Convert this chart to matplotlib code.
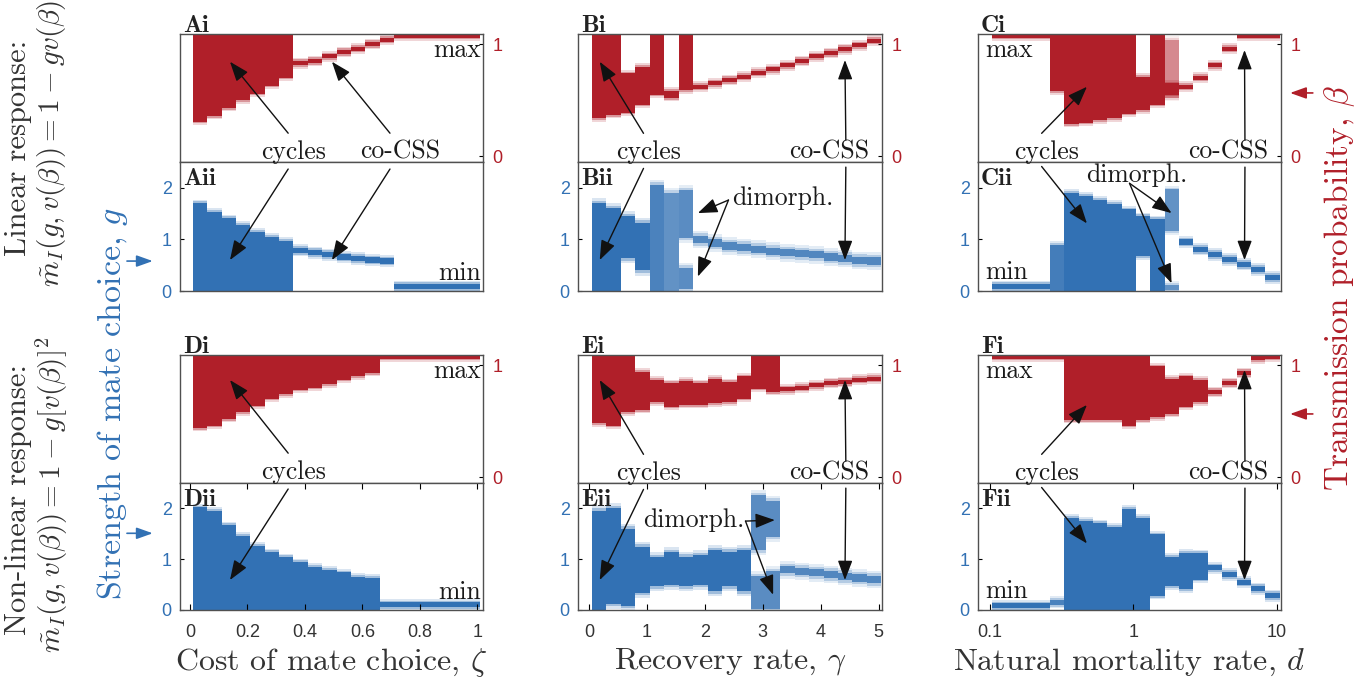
import matplotlib
matplotlib.use('Agg')
import matplotlib.pyplot as plt
import numpy as np
from matplotlib.colors import to_rgba
from matplotlib.text import Annotation
from matplotlib.ticker import NullLocator

RED = '#B01F29'
BLUE = '#3271B4'
DARK = '#333333'
plt.rcParams['font.family'] = ['Liberation Sans', 'DejaVu Sans']
plt.rcParams['mathtext.fontset'] = 'cm'

# parameter values (bin centres) of the three sweeps
zeta = [0.035, 0.085, 0.135, 0.185, 0.235, 0.285, 0.335, 0.385, 0.435, 0.485,
        0.535, 0.585, 0.635, 0.685, 0.735, 0.785, 0.835, 0.885, 0.935, 0.985]
gamma = [0.175, 0.425, 0.675, 0.925, 1.175, 1.425, 1.675, 1.925, 2.175, 2.425,
         2.675, 2.925, 3.175, 3.425, 3.675, 3.925, 4.175, 4.425, 4.675, 4.925]
d_rate = [0.117, 0.148, 0.186, 0.234, 0.295, 0.372, 0.468, 0.589, 0.741, 0.933,
          1.175, 1.479, 1.862, 2.344, 2.951, 3.715, 4.677, 5.888, 7.413, 9.333]

# ---- linear response: beta (i) and g (ii), lower / upper edge of the trait range
ai_lo = [0.31, 0.36, 0.43, 0.50, 0.56, 0.63, 0.70, 0.83, 0.85, 0.89,
         0.93, 0.96, 1.00, 1.04, 1.075, 1.075, 1.075, 1.075, 1.075, 1.075]
ai_hi = [1.1, 1.1, 1.1, 1.1, 1.1, 1.1, 1.1, 0.83, 0.85, 0.89,
         0.93, 0.96, 1.00, 1.04, 1.075, 1.075, 1.075, 1.075, 1.075, 1.075]
aii_lo = [0, 0, 0, 0, 0, 0, 0, 0.79, 0.74, 0.70,
          0.66, 0.63, 0.60, 0.58, 0.08, 0.08, 0.08, 0.08, 0.08, 0.08]
aii_hi = [1.70, 1.54, 1.41, 1.28, 1.15, 1.05, 0.97, 0.79, 0.74, 0.70,
          0.66, 0.63, 0.60, 0.58, 0.08, 0.08, 0.08, 0.08, 0.08, 0.08]

bi_lo = [0.34, 0.37, 0.39, 0.46, 0.55, 0.52, 0.59, 0.62, 0.65, 0.68,
         0.71, 0.745, 0.775, 0.81, 0.85, 0.89, 0.92, 0.955, 0.99, 1.03]
bi_hi = [1.1, 1.1, 0.74, 0.80, 1.1, 0.585, 1.1, 0.62, 0.65, 0.68,
         0.71, 0.745, 0.775, 0.81, 0.85, 0.89, 0.92, 0.955, 0.99, 1.03]
bii_bin = [0, 1, 2, 3, 4, 5, 6, 6, 7, 8, 9, 10, 11, 12, 13, 14, 15, 16, 17, 18, 19]
bii_lo = [0, 0, 0.64, 0.40, 0, 0, 1.03, 0.03, 1.0, 0.93,
          0.87, 0.84, 0.81, 0.77, 0.74, 0.72, 0.70, 0.66, 0.63, 0.59, 0.58]
bii_hi = [1.70, 1.60, 1.45, 1.32, 2.06, 1.90, 1.95, 0.45, 1.0, 0.93,
          0.87, 0.84, 0.81, 0.77, 0.74, 0.72, 0.70, 0.66, 0.63, 0.59, 0.58]
bii_tone = [1, 1, 1, 1, 0.8, 0.65, 0.7, 0.7, 0.75, 0.75,
            0.75, 0.75, 0.75, 0.75, 0.75, 0.75, 0.75, 0.75, 0.75, 0.75, 0.75]

ci_bin = [0, 1, 2, 3, 4, 5, 6, 7, 8, 9, 10, 11, 12, 12, 13, 14, 15, 16, 17, 18, 19]
ci_lo = [1.075, 1.075, 1.075, 1.075, 0.58, 0.29, 0.30, 0.32, 0.34, 0.38,
         0.41, 0.46, 0.52, 0.55, 0.62, 0.70, 0.81, 0.96, 1.075, 1.075, 1.075]
ci_hi = [1.075, 1.075, 1.075, 1.075, 1.1, 1.1, 1.1, 1.1, 1.1, 1.1,
         0.71, 1.1, 1.04, 0.65, 0.62, 0.70, 0.81, 0.96, 1.075, 1.075, 1.075]
ci_tone = [1, 1, 1, 1, 1, 1, 1, 1, 1, 1, 1, 1, 0.4, 1, 1, 1, 1, 1, 1, 1, 1]
cii_bin = [0, 1, 2, 3, 4, 5, 6, 7, 8, 9, 10, 11, 12, 12, 13, 14, 15, 16, 17, 18, 19]
cii_lo = [0.08, 0.08, 0.08, 0.08, 0, 0, 0, 0, 0, 0,
          0.68, 0, 1.16, 0.07, 0.95, 0.81, 0.71, 0.61, 0.52, 0.42, 0.26]
cii_hi = [0.08, 0.08, 0.08, 0.08, 0.90, 1.90, 1.84, 1.77, 1.69, 1.58,
          1.45, 1.39, 1.97, 0.07, 0.95, 0.81, 0.71, 0.61, 0.52, 0.42, 0.26]
cii_tone = [1, 1, 1, 1, 0.85, 1, 1, 1, 1, 1, 1, 1, 0.65, 0.65, 1, 1, 1, 1, 1, 1, 1]

# ---- non-linear response
di_lo = [0.44, 0.46, 0.52, 0.58, 0.64, 0.70, 0.74, 0.78, 0.80, 0.83,
         0.87, 0.90, 0.93, 1.075, 1.075, 1.075, 1.075, 1.075, 1.075, 1.075]
di_hi = [1.1, 1.1, 1.1, 1.1, 1.1, 1.1, 1.1, 1.1, 1.1, 1.1,
         1.1, 1.1, 1.1, 1.075, 1.075, 1.075, 1.075, 1.075, 1.075, 1.075]
dii_lo = [0, 0, 0, 0, 0, 0, 0, 0, 0, 0,
          0, 0, 0, 0.1, 0.1, 0.1, 0.1, 0.1, 0.1, 0.1]
dii_hi = [2.02, 1.95, 1.67, 1.46, 1.26, 1.14, 1.04, 0.94, 0.85, 0.79,
          0.74, 0.65, 0.63, 0.1, 0.1, 0.1, 0.1, 0.1, 0.1, 0.1]

ei_lo = [0.48, 0.46, 0.58, 0.60, 0.67, 0.63, 0.645, 0.645, 0.66, 0.67,
         0.70, 0.79, 0.76, 0.785, 0.80, 0.82, 0.84, 0.85, 0.87, 0.88]
ei_hi = [1.1, 1.1, 1.1, 0.94, 0.87, 0.84, 0.86, 0.84, 0.88, 0.85,
         0.90, 1.1, 1.1, 0.785, 0.80, 0.82, 0.84, 0.85, 0.87, 0.88]
eii_bin = [0, 1, 2, 3, 4, 5, 6, 7, 8, 9, 10, 11, 11, 12, 12, 13, 14, 15, 16, 17, 18, 19]
eii_lo = [0, 0.12, 0.08, 0.34, 0.47, 0.50, 0.47, 0.50, 0.37, 0.47, 0.37,
          1.18, 0.02, 1.44, 0.02, 0.79, 0.76, 0.73, 0.70, 0.66, 0.63, 0.60]
eii_hi = [1.95, 2.0, 1.60, 1.24, 1.04, 1.14, 1.05, 1.08, 1.18, 1.15, 1.18,
          2.26, 0.66, 2.15, 0.76, 0.79, 0.76, 0.73, 0.70, 0.66, 0.63, 0.60]
eii_tone = [1, 1, 1, 1, 1, 1, 1, 1, 1, 1, 1,
            0.7, 0.7, 0.7, 0.7, 0.75, 0.75, 0.75, 0.75, 0.75, 0.75, 0.75]

fi_lo = [1.075, 1.075, 1.075, 1.075, 1.075, 0.51, 0.51, 0.51, 0.51, 0.46,
         0.51, 0.535, 0.565, 0.63, 0.67, 0.76, 0.84, 0.93, 1.06, 1.075]
fi_hi = [1.075, 1.075, 1.075, 1.075, 1.075, 1.1, 1.1, 1.1, 1.1, 1.1,
         1.1, 0.99, 0.88, 0.90, 0.87, 0.76, 0.84, 0.93, 1.06, 1.075]
fii_lo = [0.08, 0.08, 0.08, 0.08, 0.15, 0, 0, 0, 0, 0,
          0, 0.28, 0.47, 0.41, 0.60, 0.83, 0.70, 0.55, 0.42, 0.28]
fii_hi = [0.08, 0.08, 0.08, 0.08, 0.15, 1.82, 1.76, 1.71, 1.64, 1.99,
          1.82, 1.49, 1.05, 1.13, 1.12, 0.83, 0.70, 0.55, 0.42, 0.28]
fii_tone = [1, 1, 1, 1, 0.8, 1, 1, 1, 1, 1, 1, 1, 1, 1, 1, 1, 1, 1, 1, 1]


def paint(ax, xc, width, logx, lo, hi, color, core, fuzz, bins=None, tone=None):
    xc = np.asarray(xc, float)
    if logx:
        left, right = xc / 10 ** (width / 2), xc * 10 ** (width / 2)
    else:
        left, right = xc - width / 2, xc + width / 2
    idx = np.arange(len(lo)) if bins is None else np.asarray(bins)
    t = np.ones(len(lo)) if tone is None else np.asarray(tone, float)
    lo = np.asarray(lo, float)
    hi = np.asarray(hi, float)
    mid, half = (lo + hi) / 2, np.maximum((hi - lo) / 2, core)
    a, b = mid - half, mid + half
    L, Wd = left[idx], right[idx] - left[idx]
    for k, al in [(1.0, 0.18), (0.5, 0.35)]:
        ax.bar(L, b - a + 2 * k * fuzz, bottom=a - k * fuzz, width=Wd, align='edge',
               color=[to_rgba(color, al * v) for v in t], linewidth=0, antialiased=False)
    ax.bar(L, b - a, bottom=a, width=Wd, align='edge',
           color=[to_rgba(color, v) for v in t], linewidth=0, antialiased=False)


W, H = 1369, 681
fig = plt.figure(figsize=(13.69, 6.81), dpi=100)


def box(l, t, r, b):
    return fig.add_axes([l / W, 1 - b / H, (r - l) / W, (b - t) / H])


cols = [(180, 483), (578, 882), (978, 1281)]
rows = [((34, 162), (162, 291)), ((355, 483), (483, 610))]
xlims = [(-0.035, 1.02), (-0.19, 5.06), (0.083, 10.7)]
xticks = [[0, 0.2, 0.4, 0.6, 0.8, 1], [0, 1, 2, 3, 4, 5], [0.1, 1, 10]]
xtlabels = [['0', '0.2', '0.4', '0.6', '0.8', '1'], ['0', '1', '2', '3', '4', '5'], ['0.1', '1', '10']]
xlabels = [r'Cost of mate choice, $\zeta$', r'Recovery rate, $\gamma$', r'Natural mortality rate, $d$']
names = [['A', 'B', 'C'], ['D', 'E', 'F']]

axs = {}
for r, ((t1, b1), (t2, b2)) in enumerate(rows):
    for c, (l, rr) in enumerate(cols):
        a1 = box(l, t1, rr, b1)
        a2 = box(l, t2, rr, b2)
        for a in (a1, a2):
            if c == 2:
                a.set_xscale('log')
            a.set_xlim(*xlims[c])
            a.xaxis.set_minor_locator(NullLocator())
            for s in a.spines.values():
                s.set_color('#505050')
                s.set_linewidth(1.0)
        a1.set_ylim(-0.05, 1.09)
        a1.yaxis.tick_right()
        a1.set_yticks([0, 1])
        a1.set_yticklabels(['0', '1'])
        a1.tick_params(axis='y', labelcolor=RED, labelsize=13, direction='in', length=3, pad=7)
        a1.set_xticks([])
        a2.set_ylim(0, 2.5)
        a2.set_yticks([0, 1, 2])
        a2.set_yticklabels(['0', '1', '2'])
        a2.tick_params(axis='y', labelcolor=BLUE, labelsize=13, direction='in', length=3, pad=6)
        if r == 0:
            a2.set_xticks([])
        else:
            a2.set_xticks(xticks[c])
            a2.set_xticklabels(xtlabels[c])
            a2.tick_params(axis='x', labelcolor=DARK, labelsize=13, direction='in', length=4,
                           top=True, pad=10)
            a2.set_xlabel(xlabels[c], family='cmr10', fontsize=23, color=DARK, labelpad=4)
        n = names[r][c]
        a1.text(0.01, 1.012, n + 'i', transform=a1.transAxes, family='cmb10', fontsize=18,
                va='baseline', ha='left', color='#222222')
        a2.text(0.01, 0.955, n + 'ii', transform=a2.transAxes, family='cmb10', fontsize=18,
                va='top', ha='left', color='#222222')
        axs[n] = (a1, a2)

bcore, bfuzz = 0.018, 0.03
paint(axs['A'][0], zeta, 0.05, False, ai_lo, ai_hi, RED, bcore, bfuzz)
paint(axs['A'][1], zeta, 0.05, False, aii_lo, aii_hi, BLUE, 0.05, 0.07)
paint(axs['B'][0], gamma, 0.25, False, bi_lo, bi_hi, RED, bcore, bfuzz)
paint(axs['B'][1], gamma, 0.25, False, bii_lo, bii_hi, BLUE, 0.07, 0.1, bii_bin, bii_tone)
paint(axs['C'][0], d_rate, 0.1, True, ci_lo, ci_hi, RED, bcore, bfuzz, ci_bin, ci_tone)
paint(axs['C'][1], d_rate, 0.1, True, cii_lo, cii_hi, BLUE, 0.05, 0.07, cii_bin, cii_tone)
paint(axs['D'][0], zeta, 0.05, False, di_lo, di_hi, RED, bcore, bfuzz)
paint(axs['D'][1], zeta, 0.05, False, dii_lo, dii_hi, BLUE, 0.05, 0.07)
paint(axs['E'][0], gamma, 0.25, False, ei_lo, ei_hi, RED, bcore, bfuzz)
paint(axs['E'][1], gamma, 0.25, False, eii_lo, eii_hi, BLUE, 0.07, 0.1, eii_bin, eii_tone)
paint(axs['F'][0], d_rate, 0.1, True, fi_lo, fi_hi, RED, bcore, bfuzz)
paint(axs['F'][1], d_rate, 0.1, True, fii_lo, fii_hi, BLUE, 0.05, 0.07, None, fii_tone)


def label(ax, x, y, s, ha='center', va='center', **kw):
    fig.text(x, y, s, transform=ax.transAxes, ha=ha, va=va, family='cmr10',
             fontsize=18.5, color='#1a1a1a', zorder=6, **kw)


def arrow(head_ax, hx, hy, tail_ax, tx, ty, color='#111111', lw=1.0, scale=15):
    an = Annotation('', xy=(hx, hy), xycoords=head_ax.transData, xytext=(tx, ty),
                    textcoords=tail_ax.transAxes,
                    arrowprops=dict(arrowstyle='-|>,head_length=0.8,head_width=0.3',
                                    lw=lw, color=color, shrinkA=0, shrinkB=0,
                                    mutation_scale=scale))
    an.set_zorder(5)
    fig.add_artist(an)


# column A / D
for key, hb_i, hb_ii, ty in [('A', 0.843, 0.60, 0.08), ('D', 0.867, 0.59, 0.088)]:
    a1, a2 = axs[key]
    label(a1, 0.374, ty, 'cycles')
    arrow(a1, 0.139, hb_i, a1, 0.357, ty + 0.145)
    arrow(a2, 0.139, hb_ii, a1, 0.357, ty - 0.135)
    label(a1, 0.993, 0.875, 'max', ha='right')
    label(a2, 0.993, 0.14, 'min', ha='right')
a1, a2 = axs['A']
label(a1, 0.726, 0.08, 'co-CSS')
arrow(a1, 0.494, 0.843, a1, 0.693, 0.225)
arrow(a2, 0.494, 0.60, a1, 0.693, -0.055)

# column B / E
for key, hb_i, hb_ii, cb_i, cb_ii in [('B', 0.843, 0.60, 0.858, 0.60), ('E', 0.867, 0.59, 0.867, 0.59)]:
    a1, a2 = axs[key]
    label(a1, 0.232, 0.08, 'cycles')
    arrow(a1, 0.185, hb_i, a1, 0.2155, 0.224)
    arrow(a2, 0.185, hb_ii, a1, 0.2155, -0.05)
    label(a1, 0.826, 0.08, 'co-CSS')
    arrow(a1, 4.42, cb_i, a1, 0.881, 0.17)
    arrow(a2, 4.42, cb_ii, a1, 0.881, -0.04)
a2 = axs['B'][1]
label(a2, 0.672, 0.72, 'dimorph.')
arrow(a2, 1.88, 1.51, a2, 0.495, 0.705)
arrow(a2, 1.88, 0.28, a2, 0.495, 0.705)
a2 = axs['E'][1]
label(a2, 0.38, 0.71, 'dimorph.')
arrow(a2, 3.21, 1.77, a2, 0.551, 0.70)
arrow(a2, 3.18, 0.30, a2, 0.551, 0.70)

# column C / F
for key, hb_i, hb_ii, cb_i, cb_ii in [('C', 0.62, 1.31, 0.947, 0.60), ('F', 0.645, 1.31, 0.956, 0.59)]:
    a1, a2 = axs[key]
    label(a1, 0.227, 0.08, 'cycles')
    arrow(a1, 0.476, hb_i, a1, 0.21, 0.224)
    arrow(a2, 0.476, hb_ii, a1, 0.21, -0.035)
    label(a1, 0.826, 0.08, 'co-CSS')
    arrow(a1, 5.96, cb_i, a1, 0.881, 0.17)
    arrow(a2, 5.96, cb_ii, a1, 0.881, -0.04)
    label(a1, 0.023, 0.875, 'max', ha='left')
    label(a2, 0.023, 0.145, 'min', ha='left')
a2 = axs['C'][1]
label(a2, 0.524, 0.90, 'dimorph.')
arrow(a2, 1.85, 1.51, a2, 0.50, 0.835)
arrow(a2, 1.85, 0.15, a2, 0.50, 0.835)

# starting values
g0 = [0.58, 1.51]
beta0 = [0.565, 0.565]
for r, key in enumerate(['A', 'D']):
    ax = axs[key][1]
    an = Annotation('', xy=(-0.09, g0[r]), xycoords=ax.get_yaxis_transform(),
                    xytext=(-0.175, g0[r]), textcoords=ax.get_yaxis_transform(),
                    arrowprops=dict(arrowstyle='-|>,head_length=0.7,head_width=0.25',
                                    lw=1.2, color=BLUE, shrinkA=0, shrinkB=0, mutation_scale=14))
    fig.add_artist(an)
for r, key in enumerate(['C', 'F']):
    ax = axs[key][0]
    an = Annotation('', xy=(1.03, beta0[r]), xycoords=ax.get_yaxis_transform(),
                    xytext=(1.105, beta0[r]), textcoords=ax.get_yaxis_transform(),
                    arrowprops=dict(arrowstyle='-|>,head_length=0.7,head_width=0.25',
                                    lw=1.2, color=RED, shrinkA=0, shrinkB=0, mutation_scale=14))
    fig.add_artist(an)

# row / side labels
fig.text(18 / W, 1 - 148 / H, 'Linear response:', rotation=90, ha='center', va='center',
         family='cmr10', fontsize=22, color=DARK)
fig.text(52 / W, 1 - 143 / H, r'$\tilde{m}_I(g,v(\beta))=1-gv(\beta)$', rotation=90,
         ha='center', va='center', fontsize=21, color=DARK)
fig.text(18 / W, 1 - 500 / H, 'Non-linear response:', rotation=90, ha='center', va='center',
         family='cmr10', fontsize=22, color=DARK)
fig.text(52 / W, 1 - 495 / H, r'$\tilde{m}_I(g,v(\beta))=1-g[v(\beta)]^2$', rotation=90,
         ha='center', va='center', fontsize=21, color=DARK)
fig.text(113 / W, 1 - 403 / H, r'Strength of mate choice, $g$', rotation=90, ha='center',
         va='center', family='cmr10', fontsize=24.5, color=BLUE)
fig.text(1340 / W, 1 - 288 / H, r'Transmission probability, $\beta$', rotation=90,
         ha='center', va='center', family='cmr10', fontsize=24, color=RED)

fig.savefig('out.png', dpi=100)
